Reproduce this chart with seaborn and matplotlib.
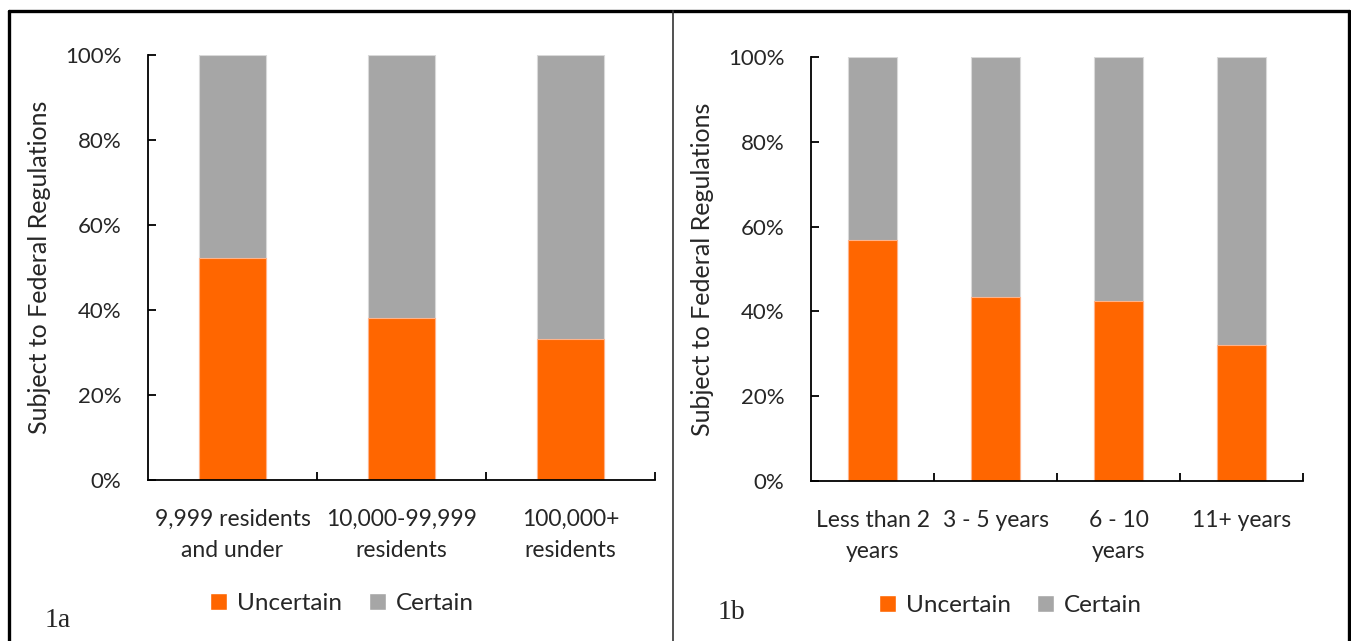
import pandas as pd
import matplotlib.pyplot as plt
import seaborn as sns
from matplotlib.lines import Line2D
from matplotlib.patches import Patch

# ===============================
# Data (percent of respondents)
# ===============================
pop_labels = ["9,999 residents\nand under", "10,000-99,999\nresidents", "100,000+\nresidents"]
pop_uncertain = [52.3, 38.0, 33.1]
pop_certain = [47.7, 62.0, 66.9]

yrs_labels = ["Less than 2\nyears", "3 - 5 years", "6 - 10\nyears", "11+ years"]
yrs_uncertain = [56.9, 43.4, 42.4, 32.1]
yrs_certain = [43.1, 56.6, 57.6, 67.9]

ORANGE = "#FF6600"
GRAY = "#A6A6A6"

sns.set_style("white")
plt.rcParams["font.family"] = ["Lato", "DejaVu Sans"]

fig = plt.figure(figsize=(13.51, 6.41), dpi=100)
ax_a = fig.add_axes([0.1095, 0.2512, 0.3753, 0.6630])
ax_b = fig.add_axes([0.6003, 0.2496, 0.3642, 0.6615])


def draw_panel(ax, labels, uncertain, certain):
    df = pd.DataFrame({"group": labels, "Uncertain": uncertain, "Certain": certain})
    df["total"] = df["Uncertain"] + df["Certain"]
    sns.barplot(data=df, x="group", y="total", color=GRAY, width=0.4,
                edgecolor="#D9D9D9", linewidth=0.8, saturation=1, ax=ax)
    sns.barplot(data=df, x="group", y="Uncertain", color=ORANGE, width=0.4,
                edgecolor="#FFB38A", linewidth=0.8, saturation=1, ax=ax)
    n = len(labels)
    ax.set_xlim(-0.5, n - 0.5)
    ax.set_ylim(0, 100)
    ax.set_yticks(range(0, 101, 20))
    ax.set_yticklabels([f"{v}%" for v in range(0, 101, 20)], fontsize=16)
    ax.set_xticks([i + 0.5 for i in range(n)])
    ax.set_xticklabels([""] * n)
    ax.set_xticks(range(n), labels=labels, minor=True)
    for t in ax.get_xticklabels(minor=True):
        t.set_linespacing(1.6)
    ax.tick_params(axis="x", which="minor", bottom=True, length=0, pad=21, labelsize=16.5)
    ax.tick_params(axis="x", which="major", bottom=True, direction="in", length=6,
                   width=1.3, color="black")
    ax.tick_params(axis="y", left=True, direction="in", length=6, width=1.3,
                   color="black", pad=19)
    ax.set_xlabel("")
    ax.set_ylabel("Subject to Federal Regulations", fontsize=18, labelpad=10)
    for side in ["top", "right"]:
        ax.spines[side].set_visible(False)
    for side in ["left", "bottom"]:
        ax.spines[side].set_color("black")
        ax.spines[side].set_linewidth(1.3)


draw_panel(ax_a, pop_labels, pop_uncertain, pop_certain)
draw_panel(ax_b, yrs_labels, yrs_uncertain, yrs_certain)

# legends, centred in each half
handles = [Patch(facecolor=ORANGE, label="Uncertain"), Patch(facecolor=GRAY, label="Certain")]
for cx, cy in [(0.253, 0.058), (0.748, 0.055)]:
    fig.legend(handles=handles, loc="center", bbox_to_anchor=(cx, cy), ncol=2,
               frameon=False, fontsize=17.5, handlelength=0.7, handleheight=0.7,
               handletextpad=0.4, columnspacing=1.1)

# panel tags
fig.text(0.033, 0.022, "1a", fontsize=20, family="Liberation Serif")
fig.text(0.531, 0.034, "1b", fontsize=20, family="Liberation Serif")

# outer border and divider
fig.add_artist(Line2D([0.0067, 0.9985], [0.983, 0.983], color="black", lw=2.4))
fig.add_artist(Line2D([0.0067, 0.0067], [0.0, 0.983], color="black", lw=2.4))
fig.add_artist(Line2D([0.9985, 0.9985], [0.0, 0.983], color="black", lw=2.4))
fig.add_artist(Line2D([0.498, 0.498], [0.0, 0.983], color="#333333", lw=1.2))

plt.savefig("out.png", dpi=100)
plt.close()
